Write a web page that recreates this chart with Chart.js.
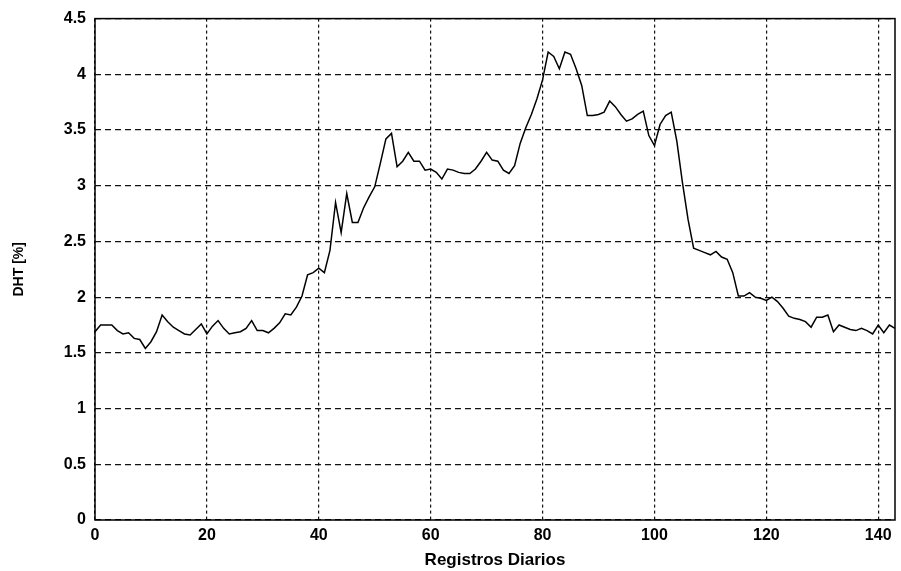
<!DOCTYPE html>
<html>
<head>
  <title>DHT - Registros Diarios</title>
  <style>
    html, body {
      margin: 0;
      padding: 0;
      background: #ffffff;
    }
    #wrap {
      width: 901px;
      height: 571px;
    }
  </style>
</head>
<body>
  <div id="wrap"><canvas id="dhtChart" width="901" height="571"></canvas></div>

  <script src="https://cdn.jsdelivr.net/npm/chart.js"></script>
  <script>
    // daily records 0..143
    const dias = [];
    for (let i = 0; i <= 143; i++) dias.push(i);

    // DHT [%], one value per day
    const dht = [
      1.69, 1.75, 1.75, 1.75, 1.70, 1.67, 1.68, 1.63, 1.62, 1.54,
      1.60, 1.69, 1.84, 1.78, 1.73, 1.70, 1.67, 1.66, 1.71, 1.76,
      1.67, 1.74, 1.79, 1.72, 1.67, 1.68, 1.69, 1.72, 1.79, 1.70,
      1.70, 1.68, 1.72, 1.77, 1.85, 1.84, 1.91, 2.01, 2.20, 2.22,
      2.26, 2.22, 2.42, 2.85, 2.58, 2.93, 2.67, 2.67, 2.80, 2.90,
      2.99, 3.20, 3.42, 3.47, 3.17, 3.22, 3.30, 3.22, 3.22, 3.14,
      3.15, 3.12, 3.06, 3.15, 3.14, 3.12, 3.11, 3.11, 3.15, 3.22,
      3.30, 3.23, 3.22, 3.14, 3.11, 3.18, 3.38, 3.52, 3.64, 3.78,
      3.95, 4.20, 4.16, 4.05, 4.20, 4.18, 4.05, 3.90, 3.63, 3.63,
      3.64, 3.66, 3.76, 3.71, 3.64, 3.58, 3.60, 3.64, 3.67, 3.45,
      3.36, 3.55, 3.63, 3.66, 3.40, 3.03, 2.70, 2.44, 2.42, 2.40,
      2.38, 2.41, 2.36, 2.34, 2.22, 2.01, 2.01, 2.04, 2.00, 1.99,
      1.97, 2.00, 1.96, 1.90, 1.83, 1.81, 1.80, 1.78, 1.73, 1.82,
      1.82, 1.84, 1.69, 1.75, 1.73, 1.71, 1.70, 1.72, 1.70, 1.67,
      1.75, 1.68, 1.75, 1.72
    ];

    const xTicks = [0, 20, 40, 60, 80, 100, 120, 140];
    const yTicks = [0, 0.5, 1, 1.5, 2, 2.5, 3, 3.5, 4, 4.5];

    const points = dias.map((d, i) => ({ x: d, y: dht[i] }));
    const fuente = '"Liberation Sans", Arial, sans-serif';

    // black box around the plot area (MATLAB style)
    const marco = {
      id: 'marco',
      afterDraw(chart) {
        const a = chart.chartArea;
        const ctx = chart.ctx;
        ctx.save();
        ctx.strokeStyle = '#000';
        ctx.lineWidth = 1.5;
        ctx.strokeRect(a.left, a.top, a.right - a.left, a.bottom - a.top);
        ctx.restore();
      }
    };

    new Chart(document.getElementById('dhtChart').getContext('2d'), {
      type: 'line',
      data: {
        datasets: [{
          data: points,
          borderColor: '#000',
          borderWidth: 1.5,
          pointRadius: 0,
          tension: 0,
          fill: false
        }]
      },
      options: {
        responsive: false,
        animation: false,
        events: [],
        layout: { padding: { top: 18, right: 6, left: 0, bottom: 0 } },
        plugins: {
          legend: { display: false },
          tooltip: { enabled: false }
        },
        scales: {
          x: {
            type: 'linear',
            min: 0,
            max: 143,
            afterFit: s => { s.height = 51; },
            afterBuildTicks: s => { s.ticks = xTicks.map(v => ({ value: v })); },
            ticks: {
              includeBounds: false,
              color: '#000',
              padding: 6,
              maxRotation: 0,
              font: { family: fuente, size: 16, weight: 'bold' }
            },
            grid: {
              color: '#111',
              lineWidth: 1.2,
              drawTicks: false
            },
            border: { display: false, dash: [3, 3] },
            title: {
              display: true,
              text: 'Registros Diarios',
              color: '#000',
              padding: { top: 0, bottom: 0 },
              font: { family: fuente, size: 17, weight: 'bold' }
            }
          },
          y: {
            min: 0,
            max: 4.5,
            afterFit: s => { s.width = 95; },
            afterBuildTicks: s => { s.ticks = yTicks.map(v => ({ value: v })); },
            ticks: {
              color: '#000',
              padding: 9,
              callback: v => String(v),
              font: { family: fuente, size: 16, weight: 'bold' }
            },
            grid: {
              color: '#111',
              lineWidth: 1.2,
              drawTicks: false
            },
            border: { display: false, dash: [6, 4] },
            title: {
              display: true,
              text: 'DHT [%]',
              color: '#000',
              padding: { top: 11, bottom: 0 },
              font: { family: fuente, size: 14, weight: 'bold' }
            }
          }
        }
      },
      plugins: [marco]
    });
  </script>
</body>
</html>
